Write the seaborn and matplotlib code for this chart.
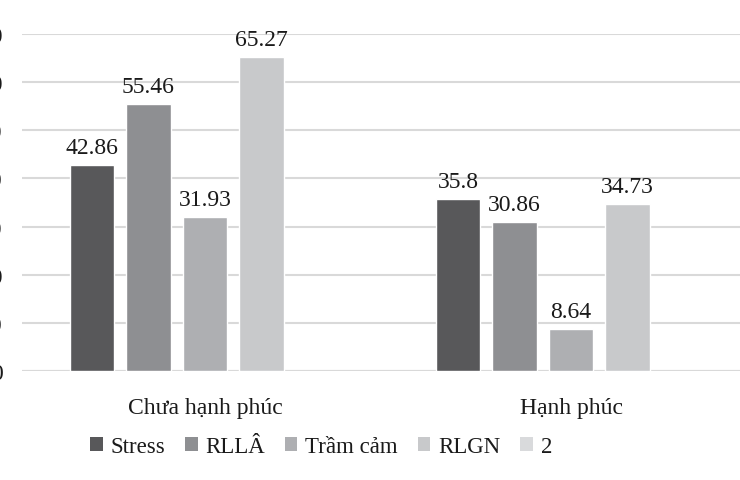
import matplotlib
matplotlib.use("Agg")
import matplotlib.pyplot as plt
import seaborn as sns
import pandas as pd
import numpy as np
from matplotlib.patches import Patch

categories = ["Chưa hạnh phúc", "Hạnh phúc"]
series = ["Stress", "RLLÂ", "Trầm cảm", "RLGN", "2"]
stress = [42.86, 35.8]
rlla = [55.46, 30.86]
tram_cam = [31.93, 8.64]
rlgn = [65.27, 34.73]
s2 = [np.nan, np.nan]
yticks = [0, 10, 20, 30, 40, 50, 60, 70]

colors = ["#58585a", "#8e8f92", "#aeafb2", "#c8c9cb", "#d9dadc"]

rows = []
for name, vals in zip(series, [stress, rlla, tram_cam, rlgn, s2]):
    for c, v in zip(categories, vals):
        rows.append({"cat": c, "series": name, "value": v})
df = pd.DataFrame(rows)

sns.set_theme(style="white")
plt.rcParams["font.family"] = ["Liberation Serif", "DejaVu Serif"]
serif = ["Liberation Serif", "DejaVu Serif"]

fig = plt.figure(figsize=(7.4, 4.81), dpi=100)
W, H = 740, 481
ax = fig.add_axes([22 / W, (H - 372) / H, 732 / W, (372 - 35) / H])

sns.barplot(data=df, x="cat", y="value", hue="series", hue_order=series,
            order=categories, palette=colors, width=0.772, gap=0.22,
            ax=ax, legend=False, saturation=1)

ax.set_xlim(-0.5, 1.5)
ax.set_ylim(0, 70)
ax.set_yticks(yticks)
ax.set_yticklabels([str(t) for t in yticks], fontsize=17, color="#1a1a1a", family=serif)
ax.grid(axis="y", color="#d9d9d9", linewidth=1.5)
ax.set_axisbelow(True)
for s in ["top", "right", "left", "bottom"]:
    ax.spines[s].set_visible(False)
ax.axhline(0, color="#d9d9d9", linewidth=1.5, zorder=0.5)
ax.tick_params(axis="y", length=0, pad=14)
ax.tick_params(axis="x", length=0, pad=19, labelsize=17, labelcolor="#1a1a1a")
for t in ax.get_xticklabels():
    t.set_family(serif)
ax.set_xlabel("")
ax.set_ylabel("")

for cont in ax.containers:
    labels = ["" if np.isnan(v) else f"{v:g}" for v in cont.datavalues]
    ax.bar_label(cont, labels=labels, padding=5, fontsize=17, color="#1a1a1a", family=serif)

handles = [Patch(facecolor=c, edgecolor="none") for c in colors]
fig.legend(handles, series, loc="center", bbox_to_anchor=(321 / W, (H - 448) / H),
           ncol=5, frameon=False, prop={"family": serif, "size": 16.5},
           handlelength=0.55, handleheight=0.55,
           handletextpad=0.35, columnspacing=0.85, labelcolor="#1a1a1a")

fig.savefig("out.png", dpi=100)
